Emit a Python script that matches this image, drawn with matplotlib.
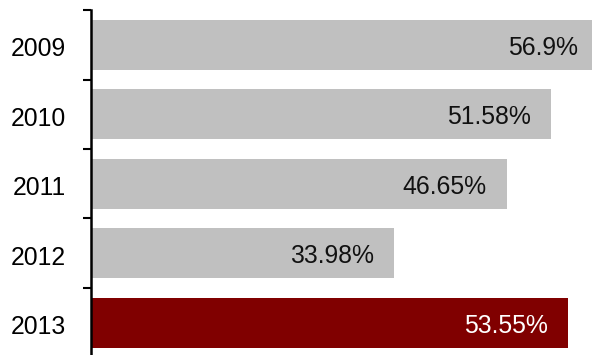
import matplotlib.pyplot as plt
import matplotlib.transforms as mtransforms
import numpy as np

plt.rcParams['font.family'] = ['Liberation Sans', 'DejaVu Sans']

years = ["2009", "2010", "2011", "2012", "2013"]
shares = [56.9, 51.58, 46.65, 33.98, 53.55]
labels = ["56.9%", "51.58%", "46.65%", "33.98%", "53.55%"]
bar_colors = ["#c0c0c0", "#c0c0c0", "#c0c0c0", "#c0c0c0", "#800000"]
text_colors = ["#111111", "#111111", "#111111", "#111111", "white"]

fig = plt.figure(figsize=(5.92, 3.55), dpi=100)
ax = fig.add_axes([90.5 / 592, -0.007, 1 - 90.5 / 592, 0.9718 + 0.007])

y = np.arange(len(years))
ax.barh(y, shares, height=0.72, color=bar_colors, zorder=2)

for yi, v, lab, tc in zip(y, shares, labels, text_colors):
    ax.annotate(lab, (v, yi), xytext=(-14.5, -2), textcoords="offset points",
                ha="right", va="center", fontsize=17.8, color=tc,
                annotation_clip=False)

ax.set_xlim(0, 56.2)
ax.set_ylim(4.5, -0.5)

# year labels at bar centres, small ticks at the category edges
ax.set_yticks(y)
ax.set_yticklabels(years, fontsize=17.8)
ax.tick_params(axis="y", which="major", length=0, pad=18)
shift = mtransforms.ScaledTranslation(0, -1.5 / 72, fig.dpi_scale_trans)
for t in ax.get_yticklabels():
    t.set_transform(t.get_transform() + shift)
ax.set_yticks(np.arange(-0.5, 5, 1), minor=True)
ax.tick_params(axis="y", which="minor", length=5.5, width=1.5, direction="out")
ax.set_xticks([])

for s in ["top", "right", "bottom"]:
    ax.spines[s].set_visible(False)
ax.spines["left"].set_linewidth(1.8)
ax.spines["left"].set_zorder(3)

fig.savefig("out.png", dpi=100)
